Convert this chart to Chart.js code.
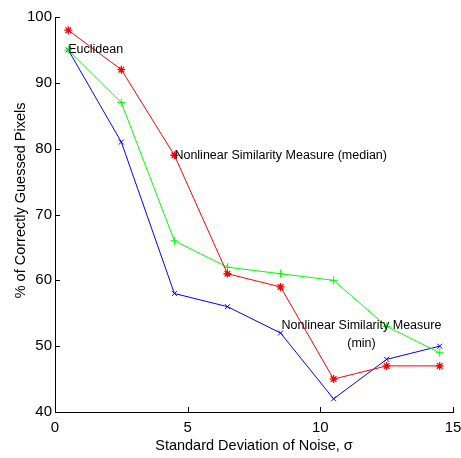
<!DOCTYPE html>
<html>
<head>
<meta charset="utf-8">
<script src="https://cdn.jsdelivr.net/npm/chart.js@4"></script>
<style>
  html, body { margin: 0; padding: 0; background: #fff; }
</style>
</head>
<body>
<canvas id="chart" width="461" height="458"></canvas>
<script>
// Data
const sigma = [0.5, 2.5, 4.5, 6.5, 8.5, 10.5, 12.5, 14.5];
const medianVals = [98, 92, 79, 61, 59, 45, 47, 47];     // red *
const euclideanVals = [95, 87, 66, 62, 61, 60, 53, 49];  // green +
const minVals = [95, 81, 58, 56, 52, 42, 48, 50];        // blue x

const xTicks = [0, 5, 10, 15];
const yTicks = [40, 50, 60, 70, 80, 90, 100];

// Text labels placed in data coordinates
const noteText = [['Euclidean'], ['Nonlinear Similarity Measure (median)'], ['Nonlinear Similarity Measure', '(min)']];
const noteX = [0.5, 4.5, 11.55];
const noteY = [95, 79, 51.8];
const noteAlign = ['left', 'left', 'center'];

const FONT = '"Liberation Sans", Arial, Helvetica, sans-serif';

function toPoints(vals) {
  return sigma.map((x, i) => ({ x: x, y: vals[i] }));
}

// MATLAB style ticks pointing into the plot
const inwardTicks = {
  id: 'inwardTicks',
  afterDraw(chart) {
    const { ctx, scales: { x, y } } = chart;
    ctx.save();
    ctx.strokeStyle = '#000';
    ctx.lineWidth = 1;
    ctx.beginPath();
    xTicks.forEach(v => {
      const px = Math.round(x.getPixelForValue(v)) + 0.5;
      ctx.moveTo(px, y.bottom);
      ctx.lineTo(px, y.bottom - 5);
    });
    yTicks.forEach(v => {
      const py = Math.round(y.getPixelForValue(v)) + 0.5;
      ctx.moveTo(x.left, py);
      ctx.lineTo(x.left + 5, py);
    });
    ctx.stroke();
    ctx.restore();
  }
};

const notes = {
  id: 'notes',
  afterDatasetsDraw(chart) {
    const { ctx, scales: { x, y } } = chart;
    ctx.save();
    ctx.fillStyle = '#000';
    ctx.font = '12.5px ' + FONT;
    ctx.textBaseline = 'middle';
    noteText.forEach((lines, i) => {
      ctx.textAlign = noteAlign[i];
      const px = x.getPixelForValue(noteX[i]);
      const py = y.getPixelForValue(noteY[i]);
      const lh = 18;
      const start = py - (lines.length - 1) * lh / 2;
      lines.forEach((t, j) => ctx.fillText(t, px, start + j * lh));
    });
    ctx.restore();
  }
};

new Chart(document.getElementById('chart'), {
  type: 'scatter',
  data: {
    datasets: [
      {
        label: 'median',
        data: toPoints(medianVals),
        borderColor: '#ff0000',
        backgroundColor: '#ff0000',
        pointStyle: 'star',
        pointRadius: 4,
        pointBorderWidth: 1.3,
        showLine: true,
        borderWidth: 1
      },
      {
        label: 'Euclidean',
        data: toPoints(euclideanVals),
        borderColor: '#00ff00',
        backgroundColor: '#00ff00',
        pointStyle: 'cross',
        pointRadius: 4,
        pointBorderWidth: 1,
        showLine: true,
        borderWidth: 1
      },
      {
        label: 'min',
        data: toPoints(minVals),
        borderColor: '#0000ff',
        backgroundColor: '#0000ff',
        pointStyle: 'crossRot',
        pointRadius: 3.5,
        pointBorderWidth: 1,
        showLine: true,
        borderWidth: 1
      }
    ]
  },
  options: {
    responsive: false,
    animation: false,
    layout: { padding: { left: 0, top: 17, right: 0, bottom: 0 } },
    plugins: {
      legend: { display: false },
      tooltip: { enabled: false }
    },
    scales: {
      x: {
        type: 'linear',
        min: 0,
        max: 15,
        afterBuildTicks: (s) => { s.ticks = xTicks.map(v => ({ value: v })); },
        afterFit: (s) => { s.height = 46; s.paddingLeft = 0; s.paddingRight = 8; },
        grid: { display: false, drawTicks: false },
        border: { display: true, color: '#000', width: 1 },
        ticks: { color: '#000', font: { family: FONT, size: 15 }, padding: 7, maxRotation: 0 },
        title: {
          display: true,
          text: 'Standard Deviation of Noise, σ',
          color: '#000',
          font: { family: FONT, size: 14.5 },
          padding: { top: 0, bottom: 3 }
        }
      },
      y: {
        type: 'linear',
        min: 40,
        max: 100,
        afterBuildTicks: (s) => { s.ticks = yTicks.map(v => ({ value: v })); },
        afterFit: (s) => { s.width = 55; },
        grid: { display: false, drawTicks: false },
        border: { display: true, color: '#000', width: 1 },
        ticks: { color: '#000', font: { family: FONT, size: 15 }, padding: 3 },
        title: {
          display: true,
          text: '       % of Correctly Guessed Pixels',
          color: '#000',
          font: { family: FONT, size: 14.5 },
          padding: { top: 12, bottom: 0 }
        }
      }
    }
  },
  plugins: [inwardTicks, notes]
});
</script>
</body>
</html>
